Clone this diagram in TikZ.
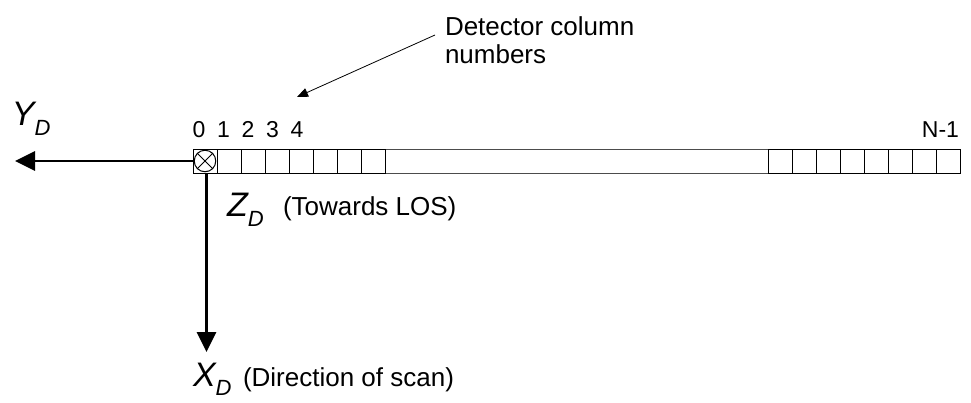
\documentclass[tikz,border=0pt]{standalone}
\usepackage{fontspec}
\setmainfont{Liberation Sans}
\usetikzlibrary{arrows.meta}
\begin{document}
\begin{tikzpicture}[x=1pt,y=-1pt,
  cell/.style={draw=black,line width=1pt,minimum width=24pt,minimum height=24pt,inner sep=0pt,outer sep=0pt},
  axis/.style={line width=2.8pt,-{Triangle[length=20pt,width=19pt]}},
  lbl/.style={inner sep=0pt,outer sep=0pt,font=\fontsize{26}{28}\selectfont},
  num/.style={inner sep=0pt,outer sep=0pt,anchor=base,font=\fontsize{23}{23}\selectfont},
  axlbl/.style={inner sep=0pt,outer sep=0pt,anchor=base west,font=\fontsize{34}{34}\selectfont\itshape},
  pointer/.style={line width=0.8pt,-{Triangle[length=11pt,width=9pt]}}]
\useasboundingbox (0,0) rectangle (971,402);
% detector strip
\node[cell,draw=black!70,minimum width=383pt] (mid) at (576.5,161) {};
\foreach \i in {0,...,7} {
  \node[cell] (l\i) at (205+24*\i,161) {};
  \node[cell] (r\i) at (780+24*\i,161) {};
}
% Z axis symbol
\node[draw=black,line width=1pt,circle,minimum size=21.5pt,inner sep=0pt] (o) at (l0) {};
\draw[line width=1pt] (o.north west) -- (o.south east) (o.north east) -- (o.south west);
% column numbers
\foreach \i in {0,...,4} {
  \node[num] (n\i) at (199+24.5*\i,137) {\i};
}
\node[num,anchor=base east] (nN) at (959,137) {N-1};
% axes
\coordinate (ytip) at (15,161);
\coordinate (xtip) at (206.5,352);
\draw[axis] (l0.west) -- (ytip);
\draw[axis] (l0.south -| xtip) -- (xtip);
% axis labels
\node[axlbl] (Y) at (12,125) {Y\raisebox{-10pt}{\fontsize{22}{22}\selectfont D}};
\node[axlbl] (Z) at (227,216) {Z\raisebox{-10pt}{\fontsize{22}{22}\selectfont D}};
\node[lbl,anchor=base west] (zt) at (283,215) {(Towards LOS)};
\node[axlbl] (X) at (193,386) {X\raisebox{-9pt}{\fontsize{22}{22}\selectfont D}};
\node[lbl,anchor=base west] (xt) at (243,386) {(Direction of scan)};
% detector column label
\node[lbl,anchor=north west,align=left] (det) at (445,17) {Detector column\\numbers};
\coordinate (pstart) at (435,35);
\coordinate (ptip) at (297,97);
\draw[pointer] (pstart) -- (ptip);
\end{tikzpicture}
\end{document}
